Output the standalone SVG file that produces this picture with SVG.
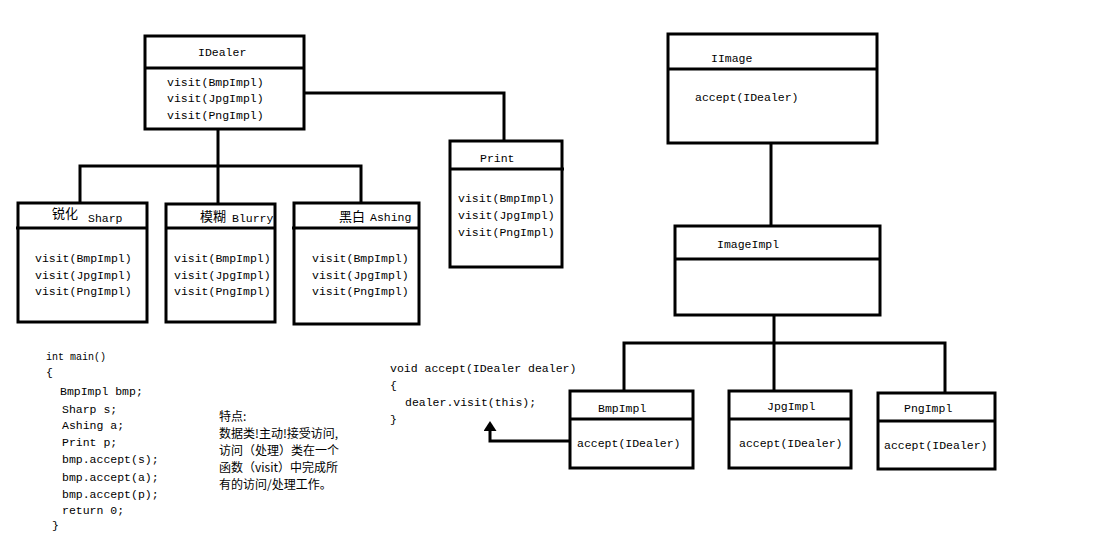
<svg xmlns="http://www.w3.org/2000/svg" width="1120" height="556" viewBox="0 0 1120 556">
<style>
.box{fill:#fff;stroke:#000;stroke-width:3}
.div{stroke:#000;stroke-width:3}
.con{fill:none;stroke:#000;stroke-width:3}
text{font-family:"Liberation Mono","DejaVu Sans Mono",monospace;font-size:11.5px;fill:#000}
.cjk{font-family:"Noto Sans CJK SC","Noto Sans CJK JP",sans-serif;font-size:12px}
.hcjk{font-family:"Noto Sans CJK SC","Noto Sans CJK JP",sans-serif;font-size:13px}
</style>
<defs>
<marker id="arr" markerUnits="userSpaceOnUse" markerWidth="12" markerHeight="13" refX="0" refY="6.5" orient="auto">
<path d="M0,0 L10,6.5 L0,13 Z" fill="#000"/>
</marker>
</defs>
<rect width="1120" height="556" fill="#fff"/>
<g id="connectors">
<polyline class="con" points="218,129 218,204"/>
<polyline class="con" points="80,203 80,166 361,166 361,203"/>
<polyline class="con" points="304,93 504,93 504,141"/>
<polyline class="con" points="771,143 771,226"/>
<polyline class="con" points="774,315 774,391"/>
<polyline class="con" points="624,391 624,343 945,343 945,393"/>
<polyline class="con" points="569,441 490,441 490,431" marker-end="url(#arr)"/>
</g>
<g id="IDealer">
<rect class="box" x="145" y="36" width="159" height="93"/>
<line class="div" x1="145" y1="68" x2="304" y2="68"/>
<text x="198" y="56">IDealer</text>
<text x="167" y="86">visit(BmpImpl)</text>
<text x="167" y="102">visit(JpgImpl)</text>
<text x="167" y="119">visit(PngImpl)</text>
</g>
<g id="Sharp">
<rect class="box" x="18" y="203" width="129" height="119"/>
<line class="div" x1="16" y1="228" x2="147" y2="228"/>
<text class="hcjk" x="52" y="218">锐化</text>
<text x="88" y="222">Sharp</text>
<text x="35" y="262">visit(BmpImpl)</text>
<text x="35" y="279">visit(JpgImpl)</text>
<text x="35" y="295">visit(PngImpl)</text>
</g>
<g id="Blurry">
<rect class="box" x="166" y="204" width="109" height="118"/>
<line class="div" x1="166" y1="228" x2="275" y2="228"/>
<text class="hcjk" x="200" y="221">模糊</text>
<text x="232" y="222">Blurry</text>
<text x="174" y="262">visit(BmpImpl)</text>
<text x="174" y="279">visit(JpgImpl)</text>
<text x="174" y="295">visit(PngImpl)</text>
</g>
<g id="Ashing">
<rect class="box" x="294" y="203" width="125" height="121"/>
<line class="div" x1="292" y1="228" x2="419" y2="228"/>
<text class="hcjk" x="339" y="221">黑白</text>
<text x="370" y="221">Ashing</text>
<text x="312" y="262">visit(BmpImpl)</text>
<text x="312" y="279">visit(JpgImpl)</text>
<text x="312" y="295">visit(PngImpl)</text>
</g>
<g id="Print">
<rect class="box" x="450" y="141" width="112" height="126"/>
<line class="div" x1="450" y1="169" x2="564" y2="169"/>
<text x="480" y="162">Print</text>
<text x="458" y="202">visit(BmpImpl)</text>
<text x="458" y="219">visit(JpgImpl)</text>
<text x="458" y="236">visit(PngImpl)</text>
</g>
<g id="IImage">
<rect class="box" x="668" y="34" width="209" height="109"/>
<line class="div" x1="668" y1="69" x2="877" y2="69"/>
<text x="711" y="62">IImage</text>
<text x="695" y="101">accept(IDealer)</text>
</g>
<g id="ImageImpl">
<rect class="box" x="675" y="226" width="205" height="89"/>
<line class="div" x1="675" y1="259" x2="880" y2="259"/>
<text x="717" y="248">ImageImpl</text>
</g>
<g id="BmpImpl">
<rect class="box" x="570" y="391" width="123" height="77"/>
<line class="div" x1="570" y1="419" x2="693" y2="419"/>
<text x="598" y="412">BmpImpl</text>
<text x="577" y="447">accept(IDealer)</text>
</g>
<g id="JpgImpl">
<rect class="box" x="729" y="391" width="122" height="77"/>
<line class="div" x1="729" y1="419" x2="851" y2="419"/>
<text x="767" y="410">JpgImpl</text>
<text x="739" y="447">accept(IDealer)</text>
</g>
<g id="PngImpl">
<rect class="box" x="878" y="393" width="117" height="76"/>
<line class="div" x1="878" y1="421" x2="995" y2="421"/>
<text x="904" y="412">PngImpl</text>
<text x="884" y="449">accept(IDealer)</text>
</g>
<g id="main-code">
<text x="46" y="360" textLength="60" lengthAdjust="spacingAndGlyphs">int main()</text>
<text x="46" y="376">{</text>
<text x="60" y="395">BmpImpl bmp;</text>
<text x="62" y="413">Sharp s;</text>
<text x="62" y="429">Ashing a;</text>
<text x="62" y="446">Print p;</text>
<text x="62" y="463">bmp.accept(s);</text>
<text x="62" y="481">bmp.accept(a);</text>
<text x="62" y="498">bmp.accept(p);</text>
<text x="62" y="514">return 0;</text>
<text x="52" y="529">}</text>
</g>
<g id="accept-code">
<text x="390" y="372">void accept(IDealer dealer)</text>
<text x="390" y="389">{</text>
<text x="405" y="406">dealer.visit(this);</text>
<text x="390" y="423">}</text>
</g>
<g id="note">
<text class="cjk" x="219" y="421">特点:</text>
<text class="cjk" x="219" y="438">数据类!主动!接受访问,</text>
<text class="cjk" x="219" y="455">访问（处理）类在一个</text>
<text class="cjk" x="219" y="472">函数（visit）中完成所</text>
<text class="cjk" x="219" y="489">有的访问/处理工作。</text>
</g>
</svg>
